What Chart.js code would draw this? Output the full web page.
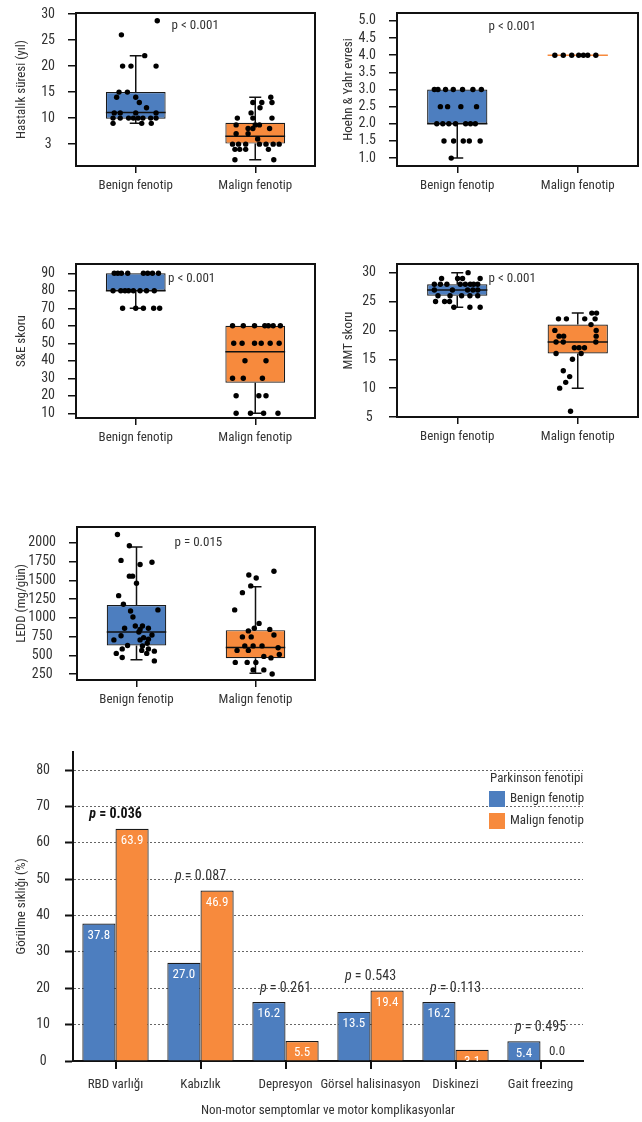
<!DOCTYPE html>
<html>
<head>
<meta charset="utf-8">
<script src="https://cdn.jsdelivr.net/npm/chart.js@4.4.1/dist/chart.umd.min.js"></script>
<style>
  body { margin: 0; background: #fff; }
  #wrap { position: relative; width: 642px; height: 1122px; }
  canvas { position: absolute; }
</style>
</head>
<body>
<div id="wrap">
  <canvas id="c1" width="330" height="200" style="left:0;top:0"></canvas>
  <canvas id="c2" width="312" height="200" style="left:330px;top:0"></canvas>
  <canvas id="c3" width="330" height="200" style="left:0;top:250px"></canvas>
  <canvas id="c4" width="312" height="200" style="left:330px;top:250px"></canvas>
  <canvas id="c5" width="330" height="220" style="left:0;top:495px"></canvas>
  <canvas id="c6" width="642" height="382" style="left:0;top:740px"></canvas>
</div>
<script>
// the original uses a narrow font; take the narrowest one that is really installed
function pickFont() {
  const c = document.createElement('canvas').getContext('2d');
  const sample = 'Benign fenotip 0123';
  const w = f => { c.font = '20px ' + f; return c.measureText(sample).width; };
  const mono = w('monospace'), serif = w('serif');
  const cands = ['Noto Sans ExtraCondensed', 'Noto Sans Condensed', 'Liberation Sans Narrow', 'Roboto Condensed', 'DejaVu Sans Condensed'];
  for (const f of cands) {
    const q = "'" + f + "'";
    if (w(q + ', monospace') !== mono || w(q + ', serif') !== serif) return q;
  }
  return 'sans-serif';
}
const FONT = pickFont() + ', sans-serif';
// size so that a category label is about as wide as in the original
const SZ = (() => {
  const c = document.createElement('canvas').getContext('2d');
  c.font = '14px ' + FONT;
  const s = 14 * 75 / c.measureText('Benign fenotip').width;
  return Math.max(12, Math.min(15, Math.round(s * 2) / 2));
})();

Chart.defaults.font.family = FONT;
Chart.defaults.font.size = SZ;
Chart.defaults.color = '#333';

const BLUE = '#4d7ebf';
const ORANGE = '#f78a3d';
const groupLabels = ['Benign fenotip', 'Malign fenotip'];

// Hastalık süresi (values, x jitter within group)
const hsBenign = [28.7, 26, 20, 20, 22, 20, 15, 15, 14, 14, 13, 12, 11, 11, 11, 11, 10, 10, 10, 10, 10, 10, 10, 10, 9, 9, 9];
const hsBenignX = [0.18, -0.12, -0.11, -0.04, 0.075, 0.17, -0.14, -0.07, -0.16, 0, 0.03, 0.09, -0.18, -0.13, 0, 0.17, -0.19, -0.13, -0.06, -0.02, 0.02, 0.06, 0.125, 0.17, -0.19, 0.05, 0.13];
const hsMalign = [14, 13, 13, 13, 12, 11, 10, 10, 10, 8.7, 8.7, 8.7, 8, 8, 8, 7, 7, 6, 5, 5, 5, 5, 5, 5, 5, 4, 4, 4, 4, 2, 2];
const hsMalignX = [0.13, -0.02, 0.055, 0.14, 0.04, -0.035, -0.15, -0.02, 0.14, -0.16, 0, 0.035, -0.06, -0.02, 0.12, -0.16, -0.06, 0.02, -0.19, -0.14, -0.08, 0.035, 0.09, 0.15, 0.2, -0.17, -0.13, -0.08, 0.11, -0.17, 0.155];
// box stats: whisker low, Q1, median, Q3, whisker high
const hsBenignBox = [9, 9.9, 11.1, 15, 22];
const hsMalignBox = [2, 5.1, 6.5, 9.1, 14];
const hsTicks = [5, 10, 15, 20, 25, 30];
const hsTickLabels = ['3', '10', '15', '20', '25', '30'];

// Hoehn & Yahr
const hyBenign = [3, 3, 3, 3, 3, 3, 3, 2.5, 2.5, 2.5, 2.5, 2, 2, 2, 2, 2, 2, 2, 1.5, 1.5, 1.5, 1.5, 1.5, 1];
const hyBenignX = [-0.19, -0.16, -0.097, -0.033, 0.044, 0.13, 0.2, -0.14, -0.08, 0.03, 0.16, -0.17, -0.12, -0.07, -0.014, 0.07, 0.11, 0.15, -0.11, -0.03, 0.05, 0.1, 0.19, -0.05];
const hyMalign = [4, 4, 4, 4, 4, 4, 4];
const hyMalignX = [-0.19, -0.12, -0.05, 0.008, 0.047, 0.083, 0.15];
const hyBenignBox = [1, 2, 2, 3, 3];
const hyMalignBox = [4, 4, 4, 4, 4];
const hyTicks = [1, 1.5, 2, 2.5, 3, 3.5, 4, 4.5, 5];
const hyTickLabels = ['1.0', '1.5', '2.0', '2.5', '3.0', '3.5', '4.0', '4.5', '5.0'];

// S&E skoru
const seBenign = [90, 90, 90, 90, 90, 90, 90, 90, 80, 80, 80, 80, 80, 80, 80, 80, 70, 70, 70, 70, 70];
const seBenignX = [-0.18, -0.15, -0.12, -0.067, 0.064, 0.1, 0.14, 0.19, -0.19, -0.125, -0.09, -0.06, -0.02, 0.036, 0.09, 0.155, -0.11, 0, 0.064, 0.15, 0.2];
const seMalign = [60, 60, 60, 60, 60, 60, 60, 50, 50, 50, 50, 50, 50, 40, 40, 30, 30, 30, 20, 20, 20, 10, 10, 10, 10];
const seMalignX = [-0.19, -0.1, -0.006, 0.08, 0.11, 0.15, 0.21, -0.18, -0.11, -0.006, 0.05, 0.125, 0.2, -0.086, 0.09, -0.19, -0.1, 0.06, -0.16, 0.03, 0.09, -0.16, -0.04, 0.07, 0.19];
const seBenignBox = [70, 80, 80, 90, 90];
const seMalignBox = [10, 27.5, 45.2, 60, 60];
const seTicks = [10, 20, 30, 40, 50, 60, 70, 80, 90];

// MMT skoru
const mmtBenign = [30, 29, 29, 29, 29, 28, 28, 28, 28, 28, 28, 28, 28, 27, 27, 27, 27, 27, 26, 26, 26, 26, 26, 25, 25, 25, 24, 24, 24];
const mmtBenignX = [0.09, -0.13, 0.003, 0.044, 0.19, -0.19, -0.14, -0.086, 0.025, 0.067, 0.108, 0.136, 0.17, -0.19, -0.04, 0.086, 0.13, 0.17, -0.16, -0.06, 0.036, 0.105, 0.17, -0.18, -0.105, -0.064, -0.028, 0.105, 0.19];
const mmtMalign = [23, 23, 22, 22, 22, 22, 21, 20, 20, 19, 19, 19, 18, 18, 18, 17, 17, 17, 16, 16, 15, 13, 12, 11, 10, 6];
const mmtMalignX = [0.117, 0.156, -0.16, -0.094, 0.058, 0.144, 0.11, -0.19, 0.153, -0.155, -0.117, 0.153, -0.18, -0.12, 0.15, -0.028, 0.011, 0.056, -0.18, 0.028, -0.044, -0.12, -0.067, -0.1, -0.15, -0.06];
const mmtBenignBox = [24, 26, 27, 28, 30];
const mmtMalignBox = [10, 16, 18, 21, 23];
const mmtTicks = [5, 10, 15, 20, 25, 30];

// LEDD (mg/gün)
const leddBenign = [2110, 1960, 1765, 1710, 1740, 1555, 1555, 1460, 1295, 1180, 1105, 1090, 1010, 890, 890, 860, 860, 845, 810, 770, 760, 735, 715, 705, 705, 660, 630, 625, 585, 585, 565, 555, 525, 525, 470, 425];
const leddBenignX = [-0.16, -0.06, -0.13, 0.03, 0.13, -0.06, -0.033, 0, -0.15, -0.11, 0.18, -0.05, -0.03, -0.01, 0.05, 0.1, -0.1, 0.03, 0.02, 0.13, -0.13, 0.06, 0.1, -0.19, 0.03, 0.09, -0.075, 0.05, -0.12, 0.1, 0.044, 0.15, -0.17, 0.086, -0.12, 0.15];
const leddMalign = [1620, 1570, 1530, 1425, 1335, 1105, 925, 860, 845, 825, 770, 745, 745, 625, 625, 625, 565, 565, 600, 510, 485, 465, 405, 405, 405, 305, 305, 250];
const leddMalignX = [0.155, -0.056, 0.006, -0.04, -0.11, -0.175, 0.03, -0.01, 0.12, -0.06, 0.155, -0.11, -0.036, -0.09, -0.02, 0.055, -0.155, -0.06, 0.19, 0.2, 0.07, 0.13, -0.17, -0.07, 0.003, -0.02, 0.07, 0.14];
const leddBenignBox = [440, 630, 810, 1170, 1945];
const leddMalignBox = [260, 460, 605, 835, 1415];
const leddTicks = [250, 500, 750, 1000, 1250, 1500, 1750, 2000];

// Non-motor / motor bar chart
const symptomLabels = ['RBD varlığı', 'Kabızlık', 'Depresyon', 'Görsel halisinasyon', 'Diskinezi', 'Gait freezing'];
const benignPct = [37.8, 27.0, 16.2, 13.5, 16.2, 5.4];
const malignPct = [63.9, 46.9, 5.5, 19.4, 3.1, 0.0];
const pValues = [0.036, 0.087, 0.261, 0.543, 0.113, 0.495];
const pctTicks = [0, 10, 20, 30, 40, 50, 60, 70, 80];

// keep the plot area where the layout padding puts it
function fixWidth(w) {
  return s => { s.width = w; s.paddingTop = 0; s.paddingBottom = 0; };
}
function fixHeight(h) {
  return s => { s.height = h; s.paddingLeft = 0; s.paddingRight = 0; };
}

function makeBoxChart(id, o) {
  const pts = [];
  o.benign.forEach((v, i) => pts.push({ x: 0 + o.benignX[i], y: v }));
  o.malign.forEach((v, i) => pts.push({ x: 1 + o.malignX[i], y: v }));
  const stats = [o.benignBox, o.malignBox];
  const medColors = o.medianColors || ['#111', '#111'];
  const labels = o.tickLabels || o.tickVals.map(String);

  // median, whiskers, frame and p text
  const extras = {
    id: 'boxExtras',
    afterDatasetDraw(chart, args) {
      if (args.meta.type !== 'bar') return;
      const ctx = chart.ctx, ys = chart.scales.y;
      ctx.save();
      ctx.lineWidth = 1.5;
      args.meta.data.forEach((bar, i) => {
        const [lo, q1, med, q3, hi] = stats[i];
        const cap = 6;
        ctx.strokeStyle = '#111';
        [[q3, hi], [q1, lo]].forEach(([from, to]) => {
          if (from === to) return;
          const y0 = ys.getPixelForValue(from), y1 = ys.getPixelForValue(to);
          ctx.beginPath();
          ctx.moveTo(bar.x, y0); ctx.lineTo(bar.x, y1);
          ctx.moveTo(bar.x - cap, y1); ctx.lineTo(bar.x + cap, y1);
          ctx.stroke();
        });
        const ym = ys.getPixelForValue(med);
        ctx.strokeStyle = medColors[i];
        ctx.beginPath();
        ctx.moveTo(bar.x - bar.width / 2, ym); ctx.lineTo(bar.x + bar.width / 2, ym);
        ctx.stroke();
      });
      ctx.restore();
    },
    afterDraw(chart) {
      const { ctx, chartArea: a, scales } = chart;
      ctx.save();
      ctx.strokeStyle = '#111';
      ctx.lineWidth = 2;
      ctx.strokeRect(a.left, a.top, a.right - a.left, a.bottom - a.top);
      ctx.fillStyle = '#333';
      ctx.font = SZ + 'px ' + FONT;
      ctx.textBaseline = 'middle';
      ctx.fillText(o.pText, scales.x.getPixelForValue(o.pAt[0]), scales.y.getPixelForValue(o.pAt[1]));
      ctx.restore();
    }
  };

  new Chart(document.getElementById(id), {
    type: 'bar',
    data: {
      datasets: [
        {
          type: 'bar',
          data: [{ x: 0, y: [o.benignBox[1], o.benignBox[3]] }, { x: 1, y: [o.malignBox[1], o.malignBox[3]] }],
          backgroundColor: [BLUE, ORANGE],
          borderColor: '#1a1a1a',
          borderWidth: 1.2,
          borderSkipped: false,
          barPercentage: 0.5,
          categoryPercentage: 1,
          order: 2
        },
        {
          type: 'scatter',
          data: pts,
          pointRadius: 2.7,
          pointBackgroundColor: '#000',
          pointBorderWidth: 0,
          order: 1
        }
      ]
    },
    options: {
      responsive: false,
      animation: false,
      layout: { padding: { top: o.top, right: o.right, bottom: 0, left: 0 } },
      plugins: { legend: { display: false }, tooltip: { enabled: false } },
      scales: {
        x: {
          type: 'linear', min: -0.5, max: 1.5, offset: false,
          afterBuildTicks: s => { s.ticks = [{ value: 0 }, { value: 1 }]; },
          afterFit: fixHeight(o.xh),
          ticks: { callback: (v, i) => groupLabels[i], padding: 5, maxRotation: 0, autoSkip: false },
          grid: { offset: false, drawOnChartArea: false, tickLength: 7, color: '#111', lineWidth: 1.5 },
          border: { display: false }
        },
        y: {
          min: o.yMin, max: o.yMax,
          afterBuildTicks: s => { s.ticks = o.tickVals.map(v => ({ value: v })); },
          afterFit: fixWidth(o.yw),
          ticks: { callback: (v, i) => labels[i], padding: 13, crossAlign: 'center', autoSkip: false, font: { size: SZ + 1 } },
          grid: { drawOnChartArea: false, tickLength: 8, color: '#111', lineWidth: 1.5 },
          border: { display: false },
          title: { display: true, text: o.title, font: { size: SZ }, padding: { top: o.titlePad, bottom: 0 } }
        }
      }
    },
    plugins: [extras]
  });
}

makeBoxChart('c1', {
  title: 'Hastalık süresi (yıl)', yMin: 0.8, yMax: 30.2, tickVals: hsTicks, tickLabels: hsTickLabels,
  benign: hsBenign, benignX: hsBenignX, malign: hsMalign, malignX: hsMalignX,
  benignBox: hsBenignBox, malignBox: hsMalignBox,
  pText: 'p < 0.001', pAt: [0.3, 27.7],
  yw: 76, xh: 34, top: 13, right: 15, titlePad: 14
});

makeBoxChart('c2', {
  title: 'Hoehn & Yahr evresi', yMin: 0.77, yMax: 5.23, tickVals: hyTicks, tickLabels: hyTickLabels,
  benign: hyBenign, benignX: hyBenignX, malign: hyMalign, malignX: hyMalignX,
  benignBox: hyBenignBox, malignBox: hyMalignBox, medianColors: ['#111', ORANGE],
  pText: 'p < 0.001', pAt: [0.26, 4.82],
  yw: 67, xh: 34, top: 13, right: 4, titlePad: 11
});

makeBoxChart('c3', {
  title: 'S&E skoru', yMin: 7.3, yMax: 95.3, tickVals: seTicks,
  benign: seBenign, benignX: seBenignX, malign: seMalign, malignX: seMalignX,
  benignBox: seBenignBox, malignBox: seMalignBox,
  pText: 'p < 0.001', pAt: [0.27, 86.7],
  yw: 76, xh: 32, top: 14, right: 15, titlePad: 14
});

makeBoxChart('c4', {
  title: 'MMT skoru', yMin: 5, yMax: 31.5, tickVals: mmtTicks,
  benign: mmtBenign, benignX: mmtBenignX, malign: mmtMalign, malignX: mmtMalignX,
  benignBox: mmtBenignBox, malignBox: mmtMalignBox,
  pText: 'p < 0.001', pAt: [0.26, 28.9],
  yw: 67, xh: 33, top: 14, right: 4, titlePad: 11
});

makeBoxChart('c5', {
  title: 'LEDD (mg/gün)', yMin: 170, yMax: 2210, tickVals: leddTicks,
  benign: leddBenign, benignX: leddBenignX, malign: leddMalign, malignX: leddMalignX,
  benignBox: leddBenignBox, malignBox: leddMalignBox,
  pText: 'p = 0.015', pAt: [0.32, 2000],
  yw: 77, xh: 35, top: 32, right: 15, titlePad: 14
});

// value labels, p values and legend for the bar chart
const barExtras = {
  id: 'barExtras',
  afterDatasetsDraw(chart) {
    const { ctx, chartArea: a, scales } = chart;
    ctx.save();
    ctx.beginPath();
    ctx.rect(a.left, a.top, a.right - a.left, a.bottom - a.top);
    ctx.clip();
    ctx.font = SZ + 'px ' + FONT;
    ctx.textAlign = 'center';
    ctx.textBaseline = 'middle';
    chart.data.datasets.forEach((ds, di) => {
      chart.getDatasetMeta(di).data.forEach((bar, i) => {
        const v = ds.data[i];
        if (v === 0) {
          ctx.fillStyle = '#333';
          ctx.fillText(v.toFixed(1), bar.x, bar.base - 9);
        } else {
          ctx.fillStyle = '#fff';
          ctx.fillText(v.toFixed(1), bar.x, bar.y + 12);
        }
      });
    });
    ctx.restore();

    ctx.save();
    ctx.textAlign = 'left';
    ctx.textBaseline = 'middle';
    pValues.forEach((p, i) => {
      const top = scales.y.getPixelForValue(Math.max(benignPct[i], malignPct[i]));
      const cx = scales.x.getPixelForValue(i);
      const sig = p < 0.05;
      const w = sig ? 'bold ' : '';
      const fP = 'italic ' + w + (SZ + 1) + 'px ' + FONT;
      const fRest = w + (SZ + 1) + 'px ' + FONT;
      const tail = ' = ' + p.toFixed(3);
      ctx.font = fP;
      const w1 = ctx.measureText('p').width;
      ctx.font = fRest;
      const w2 = ctx.measureText(tail).width;
      const x0 = cx - (w1 + w2) / 2;
      ctx.fillStyle = sig ? '#111' : '#333';
      ctx.font = fP;
      ctx.fillText('p', x0, top - 14);
      ctx.font = fRest;
      ctx.fillText(tail, x0 + w1, top - 14);
    });

    // legend
    const lx = a.right - 94;
    ctx.fillStyle = '#333';
    ctx.font = SZ + 'px ' + FONT;
    ctx.fillText('Parkinson fenotipi', lx + 1, a.top + 27);
    [BLUE, ORANGE].forEach((c, i) => {
      ctx.fillStyle = c;
      ctx.fillRect(lx, a.top + 39 + i * 22, 16, 16);
      ctx.fillStyle = '#333';
      ctx.fillText(groupLabels[i], lx + 21, a.top + 47 + i * 22);
    });
    ctx.restore();
  }
};

new Chart(document.getElementById('c6'), {
  type: 'bar',
  data: {
    labels: symptomLabels,
    datasets: [
      { label: groupLabels[0], data: benignPct, backgroundColor: BLUE, borderColor: '#1a1a1a', borderWidth: 1.2, categoryPercentage: 0.78, barPercentage: 1 },
      { label: groupLabels[1], data: malignPct, backgroundColor: ORANGE, borderColor: '#1a1a1a', borderWidth: 1.2, categoryPercentage: 0.78, barPercentage: 1 }
    ]
  },
  options: {
    responsive: false,
    animation: false,
    layout: { padding: { top: 12, right: 59, bottom: 0, left: 0 } },
    plugins: { legend: { display: false }, tooltip: { enabled: false } },
    scales: {
      x: {
        afterFit: fixHeight(61),
        ticks: { padding: 8, maxRotation: 0, autoSkip: false },
        grid: { offset: false, drawOnChartArea: false, tickLength: 8, color: '#111', lineWidth: 2 },
        border: { display: true, color: '#111', width: 2 },
        title: { display: true, text: 'Non-motor semptomlar ve motor komplikasyonlar', padding: { top: 0, bottom: 3 } }
      },
      y: {
        min: 0, max: 85,
        afterBuildTicks: s => { s.ticks = pctTicks.map(v => ({ value: v })); },
        afterFit: fixWidth(73),
        ticks: { padding: 15, crossAlign: 'center', autoSkip: false, font: { size: SZ + 1 } },
        grid: {
          color: c => (c.tick && c.tick.value === 0) ? 'rgba(0,0,0,0)' : '#666',
          lineWidth: 1, tickColor: '#111', tickWidth: 2, tickLength: 8
        },
        border: { display: true, color: '#111', width: 2, dash: [2, 2] },
        title: { display: true, text: 'Görülme sıklığı (%)', font: { size: SZ }, padding: { top: 14, bottom: 0 } }
      }
    }
  },
  plugins: [barExtras]
});
</script>
</body>
</html>
